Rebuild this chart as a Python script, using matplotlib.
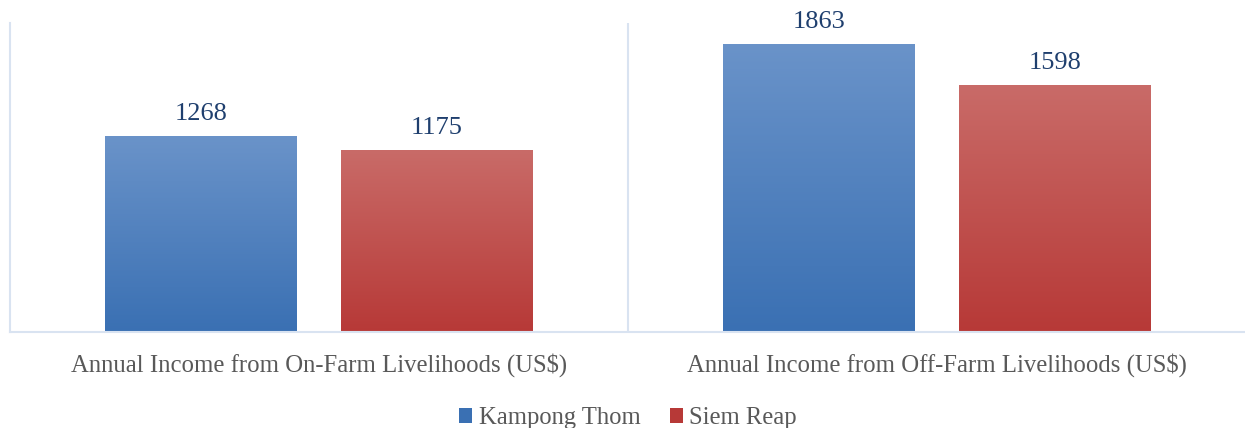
import numpy as np
import matplotlib.pyplot as plt
from matplotlib.colors import LinearSegmentedColormap

plt.rcParams['font.family'] = ['Liberation Serif', 'DejaVu Serif']

# Data
categories = ['Annual Income from On-Farm Livelihoods (US$)',
              'Annual Income from Off-Farm Livelihoods (US$)']
series_names = ['Kampong Thom', 'Siem Reap']
kampong_thom = [1268, 1863]
siem_reap = [1175, 1598]

# Colours (gradient top -> bottom)
blue_top, blue_bot = '#6A93C9', '#3A70B3'
red_top, red_bot = '#C96B68', '#B73937'
grid_col = '#D9E3F1'
label_col = '#1F3F6E'
text_col = '#595959'

fig = plt.figure(figsize=(12.45, 4.28), dpi=100)
ax = fig.add_axes([10 / 1245, (428 - 332) / 428, 1236 / 1245, 309 / 428])

x = np.arange(len(categories))
width = 0.31
offset = 0.191

bars1 = ax.bar(x - offset, kampong_thom, width, color=blue_bot, label=series_names[0])
bars2 = ax.bar(x + offset, siem_reap, width, color=red_bot, label=series_names[1])


def gradient_fill(bars, top, bot):
    cmap = LinearSegmentedColormap.from_list('g', [bot, top])
    grad = np.linspace(0, 1, 256).reshape(-1, 1)
    for b in bars:
        x0, y0 = b.get_x(), b.get_y()
        w, h = b.get_width(), b.get_height()
        im = ax.imshow(grad, cmap=cmap, aspect='auto', origin='lower',
                       extent=[x0, x0 + w, y0, y0 + h], zorder=b.get_zorder() + 0.1)
        im.set_clip_path(b)


gradient_fill(bars1, blue_top, blue_bot)
gradient_fill(bars2, red_top, red_bot)

for bars in (bars1, bars2):
    for b in bars:
        ax.annotate(f'{int(b.get_height())}',
                    (b.get_x() + b.get_width() / 2, b.get_height()),
                    xytext=(0, 16), textcoords='offset points',
                    ha='center', va='center', fontsize=19, color=label_col)

ax.set_xlim(-0.5, 1.5)
ax.set_ylim(0, 2000)
ax.set_yticks([])
ax.set_xticks(x)
ax.set_xticklabels(categories, fontsize=17.8, color=text_col)
ax.tick_params(axis='x', length=0, pad=15)

for s in ['top', 'right']:
    ax.spines[s].set_visible(False)
ax.spines['left'].set_color(grid_col)
ax.spines['bottom'].set_color(grid_col)
ax.spines['left'].set_linewidth(1.5)
ax.spines['bottom'].set_linewidth(1.5)
ax.axvline(0.5, color=grid_col, linewidth=1.5)

ax.legend(loc='center', bbox_to_anchor=(618 / 1236, (332 - 418) / 309),
          ncol=2, frameon=False, fontsize=17.7, handlelength=0.55, handleheight=0.55,
          handletextpad=0.25, columnspacing=1.2, labelcolor=text_col)

fig.savefig('out.png', dpi=100)
